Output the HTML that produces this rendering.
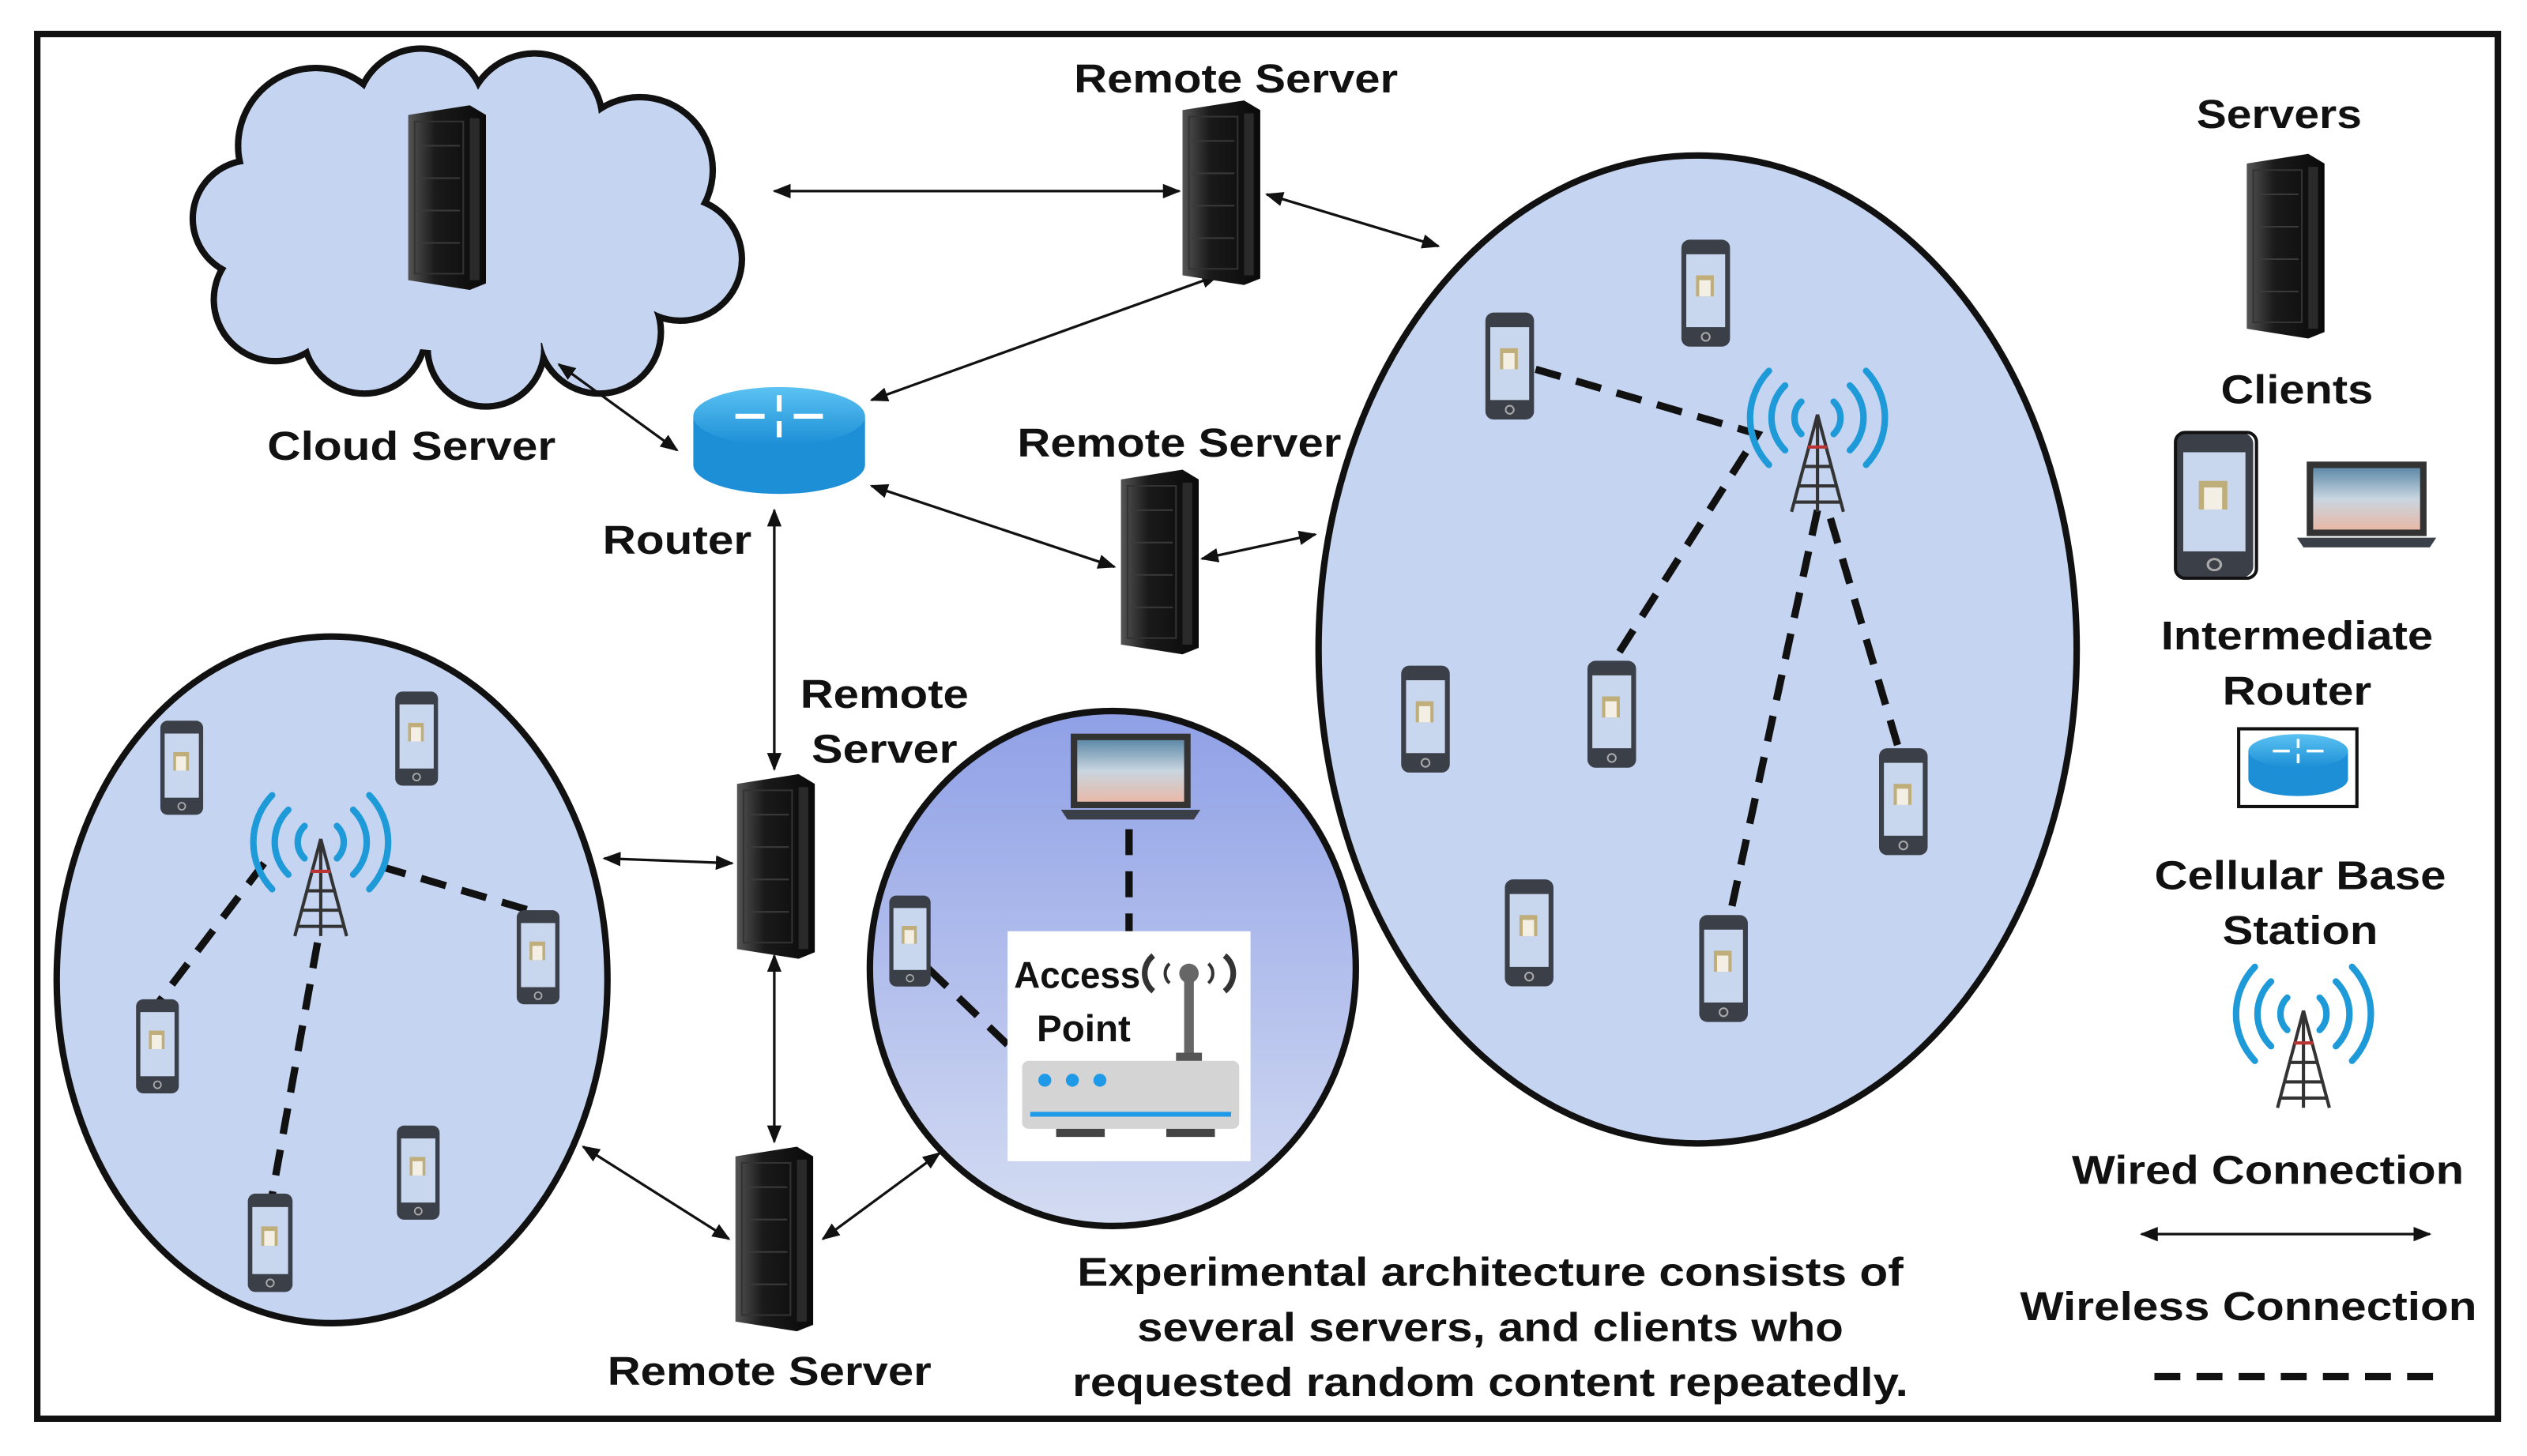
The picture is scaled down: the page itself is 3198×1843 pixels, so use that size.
<!DOCTYPE html>
<html><head><meta charset="utf-8"><style>
html,body{margin:0;padding:0;background:#fff;}
svg{display:block}
text{font-family:"Liberation Sans",sans-serif;font-weight:bold;fill:#111;}
</style></head><body>
<svg width="3198" height="1843" viewBox="0 0 1560 899" preserveAspectRatio="none" xmlns="http://www.w3.org/2000/svg">
<defs>
<marker id="ah" viewBox="0 0 10 10" refX="9" refY="5" markerWidth="7" markerHeight="7" orient="auto-start-reverse"><path d="M0,1 L10,5 L0,9 z" fill="#111"/></marker>
<linearGradient id="srv" x1="0" x2="1"><stop offset="0" stop-color="#555"/><stop offset="0.35" stop-color="#1a1a1a"/><stop offset="1" stop-color="#0a0a0a"/></linearGradient>
<linearGradient id="apg" x1="0" y1="0" x2="0" y2="1"><stop offset="0" stop-color="#8fa0e6"/><stop offset="1" stop-color="#d4dcf2"/></linearGradient>
<linearGradient id="scr" x1="0" y1="0" x2="0" y2="1"><stop offset="0" stop-color="#5f8aa8"/><stop offset="0.5" stop-color="#c9d6e0"/><stop offset="1" stop-color="#e8b9a8"/></linearGradient>
<linearGradient id="rtr" x1="0" y1="0" x2="0" y2="1"><stop offset="0" stop-color="#5cc2f2"/><stop offset="1" stop-color="#1c8fd6"/></linearGradient>
<g id="server">
  <path d="M2,6 L40,0 L50,6 L50,110 L40,114 L2,108 z" fill="url(#srv)"/>
  <rect x="6" y="10" width="30" height="94" fill="none" stroke="#333" stroke-width="1"/>
  <g stroke="#3a3a3a" stroke-width="1"><line x1="8" y1="25" x2="34" y2="25"/><line x1="8" y1="45" x2="34" y2="45"/><line x1="8" y1="65" x2="34" y2="65"/><line x1="8" y1="85" x2="34" y2="85"/></g>
  <rect x="40" y="8" width="6" height="100" fill="#2a2a2a"/>
</g>
<g id="phone">
  <rect x="0" y="0" width="30" height="66" rx="5" fill="#3b3f48"/>
  <rect x="3" y="9" width="24" height="45" fill="#c8d6ee"/>
  <rect x="9" y="22" width="11" height="13" fill="#bfae7a"/>
  <rect x="11" y="25" width="7" height="10" fill="#f3efe4"/>
  <circle cx="15" cy="60" r="2.5" fill="none" stroke="#aaa" stroke-width="1"/>
</g>
<g id="tower">
  <g fill="none" stroke="#1e9ad8" stroke-width="4" stroke-linecap="round">
    <path d="M-10,-12 A14,14 0 0 0 -10,8"/><path d="M10,-12 A14,14 0 0 1 10,8"/>
    <path d="M-20,-22 A28,28 0 0 0 -20,18"/><path d="M20,-22 A28,28 0 0 1 20,18"/>
    <path d="M-30,-31 A42,42 0 0 0 -30,27"/><path d="M30,-31 A42,42 0 0 1 30,27"/>
  </g>
  <g stroke="#333" stroke-width="2" fill="none">
    <line x1="0" y1="-4" x2="-16" y2="56"/><line x1="0" y1="-4" x2="16" y2="56"/><line x1="0" y1="-4" x2="0" y2="56"/>
    <line x1="-6" y1="16" x2="6" y2="16" stroke="#b33"/><line x1="-9" y1="28" x2="9" y2="28"/><line x1="-12" y1="40" x2="12" y2="40"/><line x1="-15" y1="50" x2="15" y2="50"/>
  </g>
</g>
<g id="router">
  <rect x="0" y="15" width="106" height="30" fill="#1c8fd6"/>
  <ellipse cx="53" cy="45" rx="53" ry="18" fill="#1c8fd6"/>
  <ellipse cx="53" cy="15" rx="53" ry="18" fill="url(#rtr)"/>
  <g stroke="#fff" stroke-width="3" fill="#fff">
    <line x1="53" y1="2" x2="53" y2="12"/><line x1="53" y1="18" x2="53" y2="28"/>
    <line x1="26" y1="15" x2="44" y2="15"/><line x1="62" y1="15" x2="80" y2="15"/>
  </g>
</g>
<g id="laptop">
  <rect x="6" y="0" width="74" height="46" fill="#333"/>
  <rect x="10" y="4" width="66" height="38" fill="url(#scr)"/>
  <path d="M0,47 L86,47 L82,53 L4,53 z" fill="#3a3f48"/>
</g>
</defs>

<rect width="1560" height="899" fill="#fff"/>
<rect x="23" y="21" width="1519" height="855" fill="none" stroke="#111" stroke-width="4"/>

<!-- cloud -->
<g stroke="#111" stroke-width="4" fill="#c5d4f0">
  <circle cx="195" cy="90" r="48"/><circle cx="260" cy="70" r="40"/><circle cx="330" cy="75" r="42"/><circle cx="395" cy="105" r="45"/>
  <circle cx="420" cy="160" r="38"/><circle cx="370" cy="205" r="38"/><circle cx="300" cy="215" r="36"/><circle cx="225" cy="205" r="38"/>
  <circle cx="170" cy="185" r="38"/><circle cx="155" cy="135" r="36"/>
</g>
<g fill="#c5d4f0">
  <circle cx="195" cy="90" r="46"/><circle cx="260" cy="70" r="38"/><circle cx="330" cy="75" r="40"/><circle cx="395" cy="105" r="43"/>
  <circle cx="420" cy="160" r="36"/><circle cx="370" cy="205" r="36"/><circle cx="300" cy="215" r="34"/><circle cx="225" cy="205" r="36"/>
  <circle cx="170" cy="185" r="36"/><circle cx="155" cy="135" r="34"/><ellipse cx="285" cy="145" rx="130" ry="72"/>
</g>
<use href="#server" x="250" y="65"/>

<!-- ellipses -->
<ellipse cx="1048" cy="401" rx="234" ry="305" fill="#c5d4f0" stroke="#111" stroke-width="4"/>
<ellipse cx="205" cy="605" rx="170" ry="212" fill="#c5d4f0" stroke="#111" stroke-width="4"/>
<ellipse cx="687" cy="598" rx="150" ry="159" fill="url(#apg)" stroke="#111" stroke-width="4"/>

<!-- arrows -->
<g stroke="#111" stroke-width="1.6" marker-start="url(#ah)" marker-end="url(#ah)">
  <line x1="478" y1="118" x2="728" y2="118"/>
  <line x1="782" y1="120" x2="888" y2="152"/>
  <line x1="538" y1="247" x2="752" y2="170"/>
  <line x1="345" y1="225" x2="418" y2="278"/>
  <line x1="538" y1="300" x2="688" y2="350"/>
  <line x1="742" y1="345" x2="812" y2="330"/>
  <line x1="478" y1="315" x2="478" y2="475"/>
  <line x1="373" y1="530" x2="452" y2="533"/>
  <line x1="478" y1="590" x2="478" y2="705"/>
  <line x1="360" y1="708" x2="450" y2="765"/>
  <line x1="508" y1="765" x2="580" y2="712"/>
  <line x1="1322" y1="762" x2="1500" y2="762"/>
</g>

<!-- servers -->
<use href="#server" x="728" y="62"/>
<use href="#server" x="690" y="290"/>
<use href="#server" x="453" y="478"/>
<use href="#server" x="452" y="708"/>
<use href="#server" x="1385" y="95"/>

<use href="#router" x="428" y="242"/>

<!-- dashed wireless -->
<g stroke="#111" stroke-width="4.5" stroke-dasharray="16,10" fill="none">
  <polyline points="948,228 1085,268 995,410"/>
  <line x1="1122" y1="315" x2="1068" y2="565"/>
  <line x1="1130" y1="320" x2="1172" y2="462"/>
  <line x1="163" y1="533" x2="97" y2="620"/>
  <line x1="235" y1="535" x2="330" y2="563"/>
  <line x1="196" y1="582" x2="168" y2="738"/>
  <line x1="697" y1="512" x2="697" y2="575"/>
  <line x1="573" y1="598" x2="622" y2="645"/>
  <line x1="1330" y1="850" x2="1510" y2="850"/>
</g>

<!-- phones right -->
<use href="#phone" x="1038" y="148"/>
<use href="#phone" x="917" y="193"/>
<use href="#phone" x="865" y="411"/>
<use href="#phone" x="980" y="408"/>
<use href="#phone" x="1160" y="462"/>
<use href="#phone" x="929" y="543"/>
<use href="#phone" x="1049" y="565"/>
<use href="#tower" x="1122" y="260"/>
<!-- phones left -->
<use href="#phone" x="99" y="445" transform="translate(99,445) scale(0.88) translate(-99,-445)"/>
<use href="#phone" x="244" y="427" transform="translate(244,427) scale(0.88) translate(-244,-427)"/>
<use href="#phone" x="319" y="562" transform="translate(319,562) scale(0.88) translate(-319,-562)"/>
<use href="#phone" x="84" y="617" transform="translate(84,617) scale(0.88) translate(-84,-617)"/>
<use href="#phone" x="245" y="695" transform="translate(245,695) scale(0.88) translate(-245,-695)"/>
<use href="#phone" x="153" y="737" transform="translate(153,737) scale(0.92) translate(-153,-737)"/>
<use href="#tower" x="198" y="522"/>

<!-- AP -->
<use href="#laptop" x="655" y="453"/>
<use href="#phone" x="549" y="553" transform="translate(549,553) scale(0.85) translate(-549,-553)"/>
<rect x="622" y="575" width="150" height="142" fill="#fff"/>
<text x="626" y="610" font-size="23" textLength="78" lengthAdjust="spacingAndGlyphs">Access</text>
<text x="640" y="643" font-size="23" textLength="58" lengthAdjust="spacingAndGlyphs">Point</text>
<g fill="none" stroke="#333" stroke-width="3.5"><path d="M712,590 A14,14 0 0 0 712,612"/><path d="M756,590 A14,14 0 0 1 756,612"/><path d="M722,595 A8,8 0 0 0 722,607" stroke-width="2"/><path d="M746,595 A8,8 0 0 1 746,607" stroke-width="2"/></g>
<rect x="731" y="603" width="6" height="50" fill="#666"/><circle cx="734" cy="601" r="6" fill="#666"/>
<rect x="726" y="650" width="16" height="6" fill="#555"/>
<rect x="631" y="655" width="134" height="42" rx="4" fill="#d4d4d4"/>
<circle cx="645" cy="667" r="4" fill="#1e9ae8"/><circle cx="662" cy="667" r="4" fill="#1e9ae8"/><circle cx="679" cy="667" r="4" fill="#1e9ae8"/>
<line x1="636" y1="688" x2="760" y2="688" stroke="#1e9ae8" stroke-width="3"/>
<rect x="652" y="697" width="30" height="5" fill="#444"/><rect x="720" y="697" width="30" height="5" fill="#444"/>

<!-- legend -->
<use href="#phone" x="1343" y="267" transform="translate(1343,267) scale(1.6,1.36) translate(-1343,-267)"/>
<rect x="1343" y="267" width="50" height="90" rx="6" fill="none" stroke="#111" stroke-width="2"/>
<use href="#laptop" x="1418" y="285"/>
<rect x="1382" y="450" width="73" height="48" fill="#fff" stroke="#111" stroke-width="2"/>
<use href="#router" x="1388" y="455" transform="translate(1388,455) scale(0.58) translate(-1388,-455)"/>
<use href="#tower" x="1422" y="628"/>

<!-- labels -->
<g font-size="25" text-anchor="middle">
<text x="763" y="57" textLength="200" lengthAdjust="spacingAndGlyphs">Remote Server</text>
<text x="254" y="284" textLength="178" lengthAdjust="spacingAndGlyphs">Cloud Server</text>
<text x="418" y="342" textLength="92" lengthAdjust="spacingAndGlyphs">Router</text>
<text x="728" y="282" textLength="200" lengthAdjust="spacingAndGlyphs">Remote Server</text>
<text x="546" y="437" textLength="104" lengthAdjust="spacingAndGlyphs">Remote</text>
<text x="546" y="471" textLength="90" lengthAdjust="spacingAndGlyphs">Server</text>
<text x="475" y="855" textLength="200" lengthAdjust="spacingAndGlyphs">Remote Server</text>
<text x="920" y="794" textLength="510" lengthAdjust="spacingAndGlyphs">Experimental architecture consists of</text>
<text x="920" y="828" textLength="436" lengthAdjust="spacingAndGlyphs">several servers, and clients who</text>
<text x="920" y="862" textLength="516" lengthAdjust="spacingAndGlyphs">requested random content repeatedly.</text>
<text x="1407" y="79" textLength="102" lengthAdjust="spacingAndGlyphs">Servers</text>
<text x="1418" y="249" textLength="94" lengthAdjust="spacingAndGlyphs">Clients</text>
<text x="1418" y="401" textLength="168" lengthAdjust="spacingAndGlyphs">Intermediate</text>
<text x="1418" y="435" textLength="92" lengthAdjust="spacingAndGlyphs">Router</text>
<text x="1420" y="549" textLength="180" lengthAdjust="spacingAndGlyphs">Cellular Base</text>
<text x="1420" y="583" textLength="96" lengthAdjust="spacingAndGlyphs">Station</text>
<text x="1400" y="731" textLength="242" lengthAdjust="spacingAndGlyphs">Wired Connection</text>
<text x="1388" y="815" textLength="282" lengthAdjust="spacingAndGlyphs">Wireless Connection</text>
</g>
</svg>
</body></html>
